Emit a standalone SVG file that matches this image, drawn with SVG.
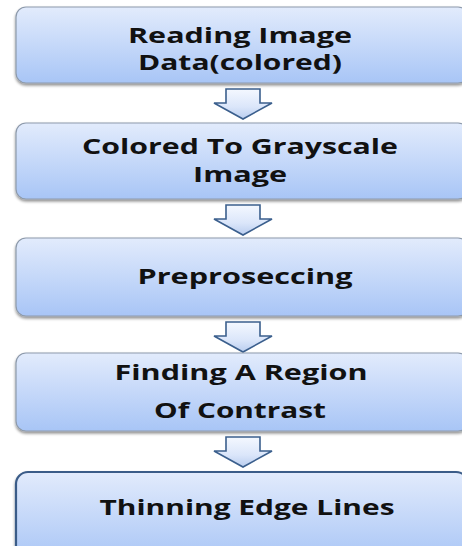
<svg xmlns="http://www.w3.org/2000/svg" width="462" height="546" viewBox="0 0 462 546">
<defs>
<linearGradient id="boxg" x1="0" y1="0" x2="0" y2="1">
<stop offset="0" stop-color="#e2ebfc"/>
<stop offset="1" stop-color="#a8c5f6"/>
</linearGradient>
<linearGradient id="arrg" x1="0" y1="0" x2="0" y2="1">
<stop offset="0" stop-color="#f4f8ff"/>
<stop offset="0.6" stop-color="#dbe6fa"/>
<stop offset="1" stop-color="#b9cdef"/>
</linearGradient>
<filter id="sh" x="-10%" y="-10%" width="120%" height="130%">
<feGaussianBlur in="SourceAlpha" stdDeviation="1.5"/>
<feOffset dx="0" dy="2" result="b"/>
<feComponentTransfer><feFuncA type="linear" slope="0.45"/></feComponentTransfer>
<feMerge><feMergeNode/><feMergeNode in="SourceGraphic"/></feMerge>
</filter>
</defs>
<style>
.box{fill:url(#boxg);stroke:#8d9aab;stroke-width:1.2;filter:url(#sh)}
.box5{fill:url(#boxg);stroke:#3a5c88;stroke-width:2.2;filter:url(#sh)}
.lbl{font-family:"Open Sans","DejaVu Sans",sans-serif;font-weight:bold;font-size:21px;fill:#111;text-anchor:middle}
.arr{fill:url(#arrg);stroke:#3b5f8d;stroke-width:1.6;stroke-linejoin:miter}
</style>
<rect width="462" height="546" fill="#ffffff"/>
<g id="connectors">
<path class="arr" d="M226,89 H260 V103 H272 L243,119 L214,103 H226 Z"/>
<path class="arr" d="M226,205 H260 V219 H272 L243,235 L214,219 H226 Z"/>
<path class="arr" d="M226,322 H260 V336 H272 L243,352 L214,336 H226 Z"/>
<path class="arr" d="M226,437 H260 V451 H272 L243,467 L214,451 H226 Z"/>
</g>
<g id="node1">
<rect class="box" x="16" y="7" width="452" height="76" rx="10"/>
<text class="lbl" x="240" y="43" textLength="224" lengthAdjust="spacingAndGlyphs">Reading Image</text>
<text class="lbl" x="240" y="70" textLength="204" lengthAdjust="spacingAndGlyphs">Data(colored)</text>
</g>
<g id="node2">
<rect class="box" x="16" y="123" width="452" height="76" rx="10"/>
<text class="lbl" x="240" y="154" textLength="316" lengthAdjust="spacingAndGlyphs">Colored To Grayscale</text>
<text class="lbl" x="240" y="182" textLength="94" lengthAdjust="spacingAndGlyphs">Image</text>
</g>
<g id="node3">
<rect class="box" x="16" y="238" width="452" height="78" rx="10"/>
<text class="lbl" x="245" y="284" textLength="215" lengthAdjust="spacingAndGlyphs">Preproseccing</text>
</g>
<g id="node4">
<rect class="box" x="16" y="353" width="452" height="78" rx="10"/>
<text class="lbl" x="241" y="380" textLength="253" lengthAdjust="spacingAndGlyphs">Finding A Region</text>
<text class="lbl" x="240" y="418" textLength="172" lengthAdjust="spacingAndGlyphs">Of Contrast</text>
</g>
<g id="node5">
<rect class="box5" x="16" y="472" width="452" height="90" rx="12"/>
<text class="lbl" x="247" y="515" textLength="295" lengthAdjust="spacingAndGlyphs">Thinning Edge Lines</text>
</g>
</svg>
